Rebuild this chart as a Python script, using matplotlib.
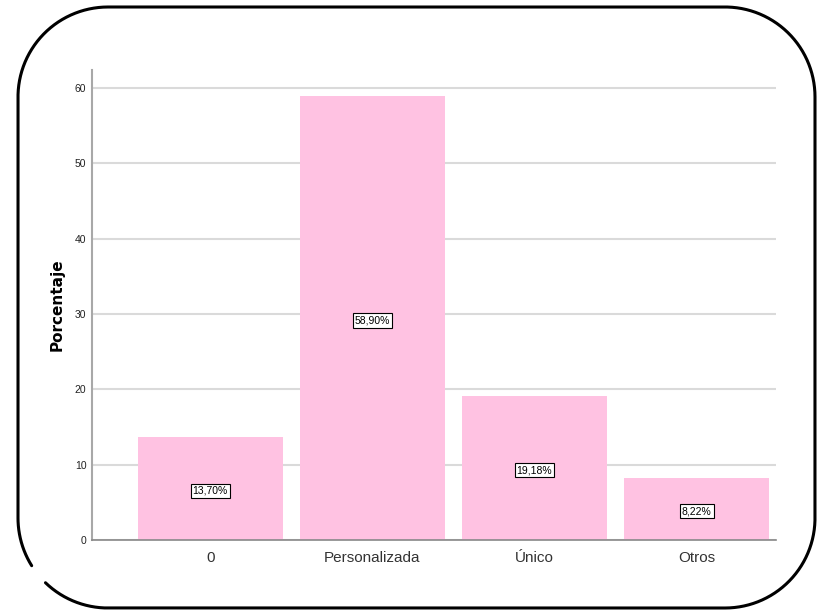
import numpy as np
import matplotlib.pyplot as plt

categories = ["0", "Personalizada", "Único", "Otros"]
values = [13.70, 58.90, 19.18, 8.22]
labels = ["13,70%", "58,90%", "19,18%", "8,22%"]
yticks = [0, 10, 20, 30, 40, 50, 60]

plt.rcParams['font.family'] = ['Liberation Sans Narrow', 'Liberation Sans', 'DejaVu Sans']

fig = plt.figure(figsize=(8.21, 6.10), dpi=100)
ax = fig.add_axes([92 / 821, 1 - 540 / 610, 684 / 821, 470 / 610])

x = list(range(len(categories)))
ax.bar(x, values, width=0.895, color='#ffc2e2', zorder=2)
for xi, v, lab in zip(x, values, labels):
    ax.text(xi, v / 2 - 0.3, lab, ha='center', va='center', fontsize=7.5, zorder=3,
            bbox=dict(boxstyle='square,pad=0.2', fc='white', ec='black', lw=0.8))

ax.set_xlim(-0.73, 3.49)
ax.set_ylim(0, 62.4)
ax.set_yticks(yticks)
ax.set_xticks(x)
ax.set_xticklabels(categories, fontsize=11, color='#333333')
ax.tick_params(axis='y', length=0, labelsize=7.5, pad=4, labelcolor='#222222')
ax.tick_params(axis='x', length=0, pad=8)
ax.yaxis.grid(True, color='#dadada', lw=1.5, zorder=0)
ax.set_axisbelow(True)
for s in ['top', 'right']:
    ax.spines[s].set_visible(False)
ax.spines['left'].set_color('#a8a8a8')
ax.spines['left'].set_linewidth(1.5)
ax.spines['bottom'].set_color('#888888')
ax.spines['bottom'].set_linewidth(1.2)
ax.set_ylabel("Porcentaje", fontsize=11, fontweight='bold', family='DejaVu Sans', labelpad=7)

# rounded frame around the chart, in pixel coordinates
fr = fig.add_axes([0, 0, 1, 1], facecolor='none')
fr.set_xlim(0, 821)
fr.set_ylim(0, 610)
fr.axis('off')
L, R, T, B, r = 18, 815, 610 - 7, 610 - 608, 90


def arc(cx, cy, a0, a1):
    t = np.radians(np.linspace(a0, a1, 60))
    return cx + r * np.cos(t), cy + r * np.sin(t)


# one path going clockwise from the gap at bottom-left to the other side of it
xs, ys = [], []
for cx, cy, a0, a1 in [(L + r, B + r, 212, 180), (L + r, T - r, 180, 90),
                       (R - r, T - r, 90, 0), (R - r, B + r, 0, -90),
                       (L + r, B + r, 270, 226)]:
    px, py = arc(cx, cy, a0, a1)
    xs.extend(px)
    ys.extend(py)
fr.plot(xs, ys, color='black', lw=2.2, solid_joinstyle='round', solid_capstyle='round')

fig.savefig("out.png", dpi=100)
